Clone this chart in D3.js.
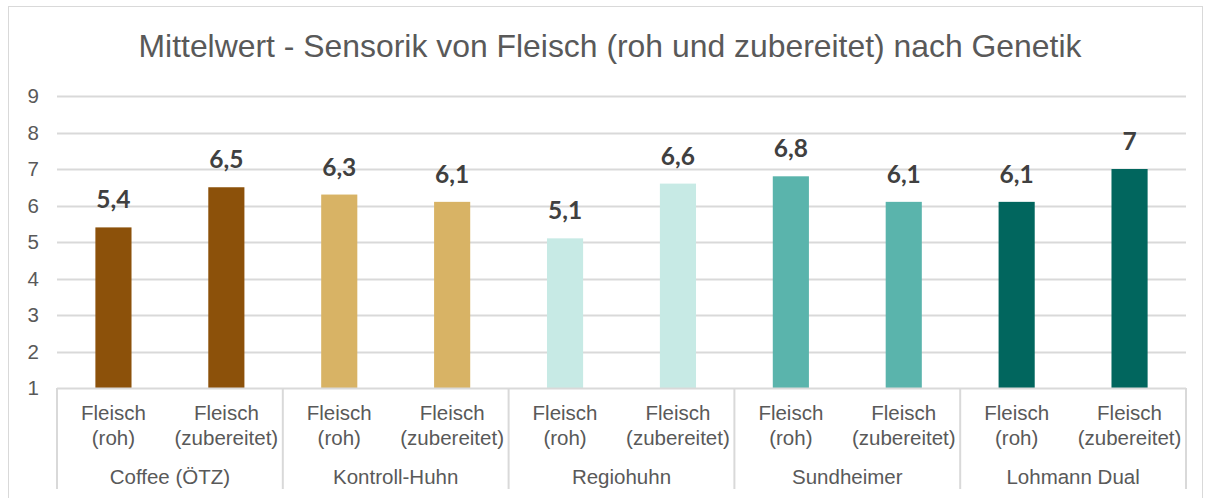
<!DOCTYPE html>
<html>
<head>
<meta charset="utf-8">
<script src="https://cdn.jsdelivr.net/npm/d3@7"></script>
<style>
  html, body { margin: 0; padding: 0; background: #fff; }
  svg { display: block; }
</style>
</head>
<body>
<svg id="chart" width="1210" height="498"></svg>
<script>
// Genetics groups, each with a raw and a cooked meat score
const groups = ["Coffee (ÖTZ)", "Kontroll-Huhn", "Regiohuhn", "Sundheimer", "Lohmann Dual"];
const subLabels = [["Fleisch", "(roh)"], ["Fleisch", "(zubereitet)"]];
const values = [5.4, 6.5, 6.3, 6.1, 5.1, 6.6, 6.8, 6.1, 6.1, 7];
const groupColors = ["#8c510a", "#d8b365", "#c7eae5", "#5ab4ac", "#01665e"];
const yTicks = [1, 2, 3, 4, 5, 6, 7, 8, 9];
const title = "Mittelwert - Sensorik von Fleisch (roh und zubereitet) nach Genetik";

const fmt = v => String(v).replace(".", ",");

const svg = d3.select("#chart");
const plot = { left: 57, right: 1186, top: 96, bottom: 388 };

// outer frame
svg.append("rect")
  .attr("x", 8.5).attr("y", 6.5)
  .attr("width", 1194).attr("height", 500)
  .attr("fill", "#fff").attr("stroke", "#d9d9d9").attr("stroke-width", 1);

// title
svg.append("text")
  .attr("x", 610).attr("y", 57)
  .attr("text-anchor", "middle")
  .attr("font-family", "'Liberation Sans', Arial, sans-serif")
  .attr("font-size", 31.9)
  .attr("fill", "#595959")
  .text(title);

// one band per bar
const cats = d3.range(values.length);
const x = d3.scaleBand().domain(cats).range([plot.left, plot.right]).paddingInner(0.68).paddingOuter(0.34);
const y = d3.scaleLinear().domain([1, 9]).range([plot.bottom, plot.top]);

// horizontal gridlines
svg.append("g").selectAll("line")
  .data(yTicks.filter(t => t > 1))
  .join("line")
  .attr("x1", plot.left).attr("x2", plot.right)
  .attr("y1", d => Math.round(y(d)) + 0.5).attr("y2", d => Math.round(y(d)) + 0.5)
  .attr("stroke", "#d9d9d9").attr("stroke-width", 2);

// y axis labels
const yAxis = d3.axisLeft(y).tickValues(yTicks).tickSize(0).tickPadding(18).tickFormat(d3.format("d"));
const gy = svg.append("g").attr("transform", `translate(${plot.left},0)`).call(yAxis);
gy.select(".domain").remove();
gy.selectAll("text")
  .attr("font-family", "'Liberation Sans', Arial, sans-serif")
  .attr("font-size", 20.5)
  .attr("fill", "#595959");

// bars
svg.append("g").selectAll("rect")
  .data(values)
  .join("rect")
  .attr("x", (d, i) => x(i))
  .attr("width", x.bandwidth())
  .attr("y", d => y(d))
  .attr("height", d => y(1) - y(d))
  .attr("fill", (d, i) => groupColors[Math.floor(i / 2)]);

// value labels
svg.append("g").selectAll("text")
  .data(values)
  .join("text")
  .attr("x", (d, i) => x(i) + x.bandwidth() / 2)
  .attr("y", d => y(d) - 19)
  .attr("text-anchor", "middle")
  .attr("font-family", "Lato, 'Open Sans', sans-serif")
  .attr("font-weight", "bold")
  .attr("font-size", 24.5)
  .attr("fill", "#404040")
  .text(d => fmt(d));

// category axis line and group separators
const step = (plot.right - plot.left) / values.length;
svg.append("line")
  .attr("x1", plot.left).attr("x2", plot.right)
  .attr("y1", plot.bottom + 0.5).attr("y2", plot.bottom + 0.5)
  .attr("stroke", "#d9d9d9").attr("stroke-width", 2);
svg.append("g").selectAll("line")
  .data(d3.range(groups.length + 1))
  .join("line")
  .attr("x1", i => plot.left + i * 2 * step).attr("x2", i => plot.left + i * 2 * step)
  .attr("y1", plot.bottom).attr("y2", 489)
  .attr("stroke", "#d9d9d9").attr("stroke-width", 2);

// inner labels (two lines each)
const inner = svg.append("g")
  .attr("font-family", "'Liberation Sans', Arial, sans-serif")
  .attr("font-size", 20.5)
  .attr("fill", "#595959")
  .attr("text-anchor", "middle");
cats.forEach(i => {
  const cx = x(i) + x.bandwidth() / 2;
  const lines = subLabels[i % 2];
  inner.append("text").attr("x", cx).attr("y", 420).text(lines[0]);
  inner.append("text").attr("x", cx).attr("y", 445).text(lines[1]);
});

// group labels
svg.append("g").selectAll("text")
  .data(groups)
  .join("text")
  .attr("x", (d, i) => plot.left + (i * 2 + 1) * step)
  .attr("y", 484)
  .attr("text-anchor", "middle")
  .attr("font-family", "'Liberation Sans', Arial, sans-serif")
  .attr("font-size", 20.5)
  .attr("fill", "#595959")
  .text(d => d);
</script>
</body>
</html>
